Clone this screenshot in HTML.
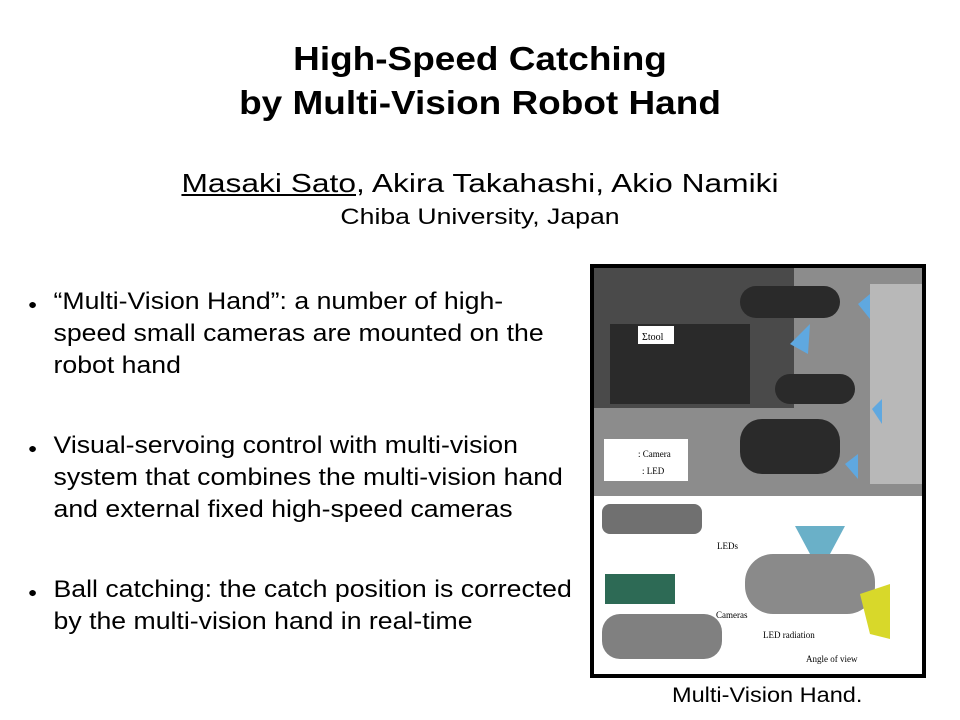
<!DOCTYPE html>
<html><head><meta charset="utf-8"><style>
body{margin:0;width:960px;height:720px;background:#fff;position:relative;overflow:hidden;font-family:"Liberation Sans",sans-serif;color:#000}
.t{position:absolute;white-space:nowrap}
.c{transform-origin:480px 0}
.b{transform-origin:0 0;transform:scaleX(1.11)}
</style></head><body>
<div class="t c" style="left:0;width:960px;top:37px;text-align:center;font-weight:bold;font-size:33px;line-height:44px;transform:scaleX(1.12)">High-Speed Catching<br>by Multi-Vision Robot Hand</div>
<div class="t c" style="left:0;width:960px;top:168px;text-align:center;font-size:26px;transform:scaleX(1.22)"><u>Masaki Sato</u>, Akira Takahashi, Akio Namiki</div>
<div class="t c" style="left:0;width:960px;top:204px;text-align:center;font-size:22px;transform:scaleX(1.21)">Chiba University, Japan</div>
<div class="t b" style="left:28px;top:286px;font-size:24px;line-height:32px"><span style="position:absolute;left:0;top:2px;font-size:14px">●</span><div style="margin-left:23px">“Multi-Vision Hand”: a number of high-<br>speed small cameras are mounted on the<br>robot hand</div></div>
<div class="t b" style="left:28px;top:430px;font-size:24px;line-height:32px"><span style="position:absolute;left:0;top:2px;font-size:14px">●</span><div style="margin-left:23px">Visual-servoing control with multi-vision<br>system that combines the multi-vision hand<br>and external fixed high-speed cameras</div></div>
<div class="t b" style="left:28px;top:574px;font-size:24px;line-height:32px"><span style="position:absolute;left:0;top:2px;font-size:14px">●</span><div style="margin-left:23px">Ball catching: the catch position is corrected<br>by the multi-vision hand in real-time</div></div>
<svg style="position:absolute;left:590px;top:264px" width="336" height="414">
<rect x="0" y="0" width="336" height="414" fill="#000"/>
<rect x="4" y="4" width="328" height="228" fill="#8c8c8c"/>
<rect x="4" y="4" width="200" height="140" fill="#4a4a4a"/>
<rect x="280" y="20" width="52" height="200" fill="#b8b8b8"/>
<g fill="#2a2a2a">
<rect x="150" y="22" width="100" height="32" rx="16"/>
<rect x="185" y="110" width="80" height="30" rx="15"/>
<rect x="150" y="155" width="100" height="55" rx="22"/>
<rect x="20" y="60" width="140" height="80"/>
</g>
<g fill="#5fa8e0"><polygon points="200,80 220,60 218,90"/><polygon points="268,40 280,30 280,55"/><polygon points="282,145 292,135 292,160"/><polygon points="255,200 268,190 268,215"/></g>
<rect x="14" y="175" width="84" height="42" fill="#fff"/>
<text x="48" y="193" font-family="Liberation Serif" font-size="9">: Camera</text>
<text x="52" y="210" font-family="Liberation Serif" font-size="9">: LED</text>
<rect x="48" y="62" width="36" height="18" fill="#fff"/><text x="52" y="76" font-family="Liberation Serif" font-size="10">Σtool</text>
<rect x="4" y="232" width="328" height="178" fill="#fff"/>
<rect x="12" y="240" width="100" height="30" rx="8" fill="#707070"/>
<rect x="15" y="310" width="70" height="30" fill="#2d6a55"/>
<rect x="12" y="350" width="120" height="45" rx="18" fill="#808080"/>
<rect x="155" y="290" width="130" height="60" rx="28" fill="#8a8a8a"/>
<polygon points="205,262 255,262 240,290 220,290" fill="#6ab0c8"/>
<polygon points="270,330 300,320 300,375 280,370" fill="#d8d82a"/>
<text x="127" y="285" font-family="Liberation Serif" font-size="9">LEDs</text>
<text x="126" y="354" font-family="Liberation Serif" font-size="9">Cameras</text>
<text x="173" y="374" font-family="Liberation Serif" font-size="9">LED radiation</text>
<text x="216" y="398" font-family="Liberation Serif" font-size="9">Angle of view</text>
</svg>
<div class="t" style="left:672px;top:684px;font-size:21px;transform-origin:0 0;transform:scaleX(1.12)">Multi-Vision Hand.</div>
</body></html>
